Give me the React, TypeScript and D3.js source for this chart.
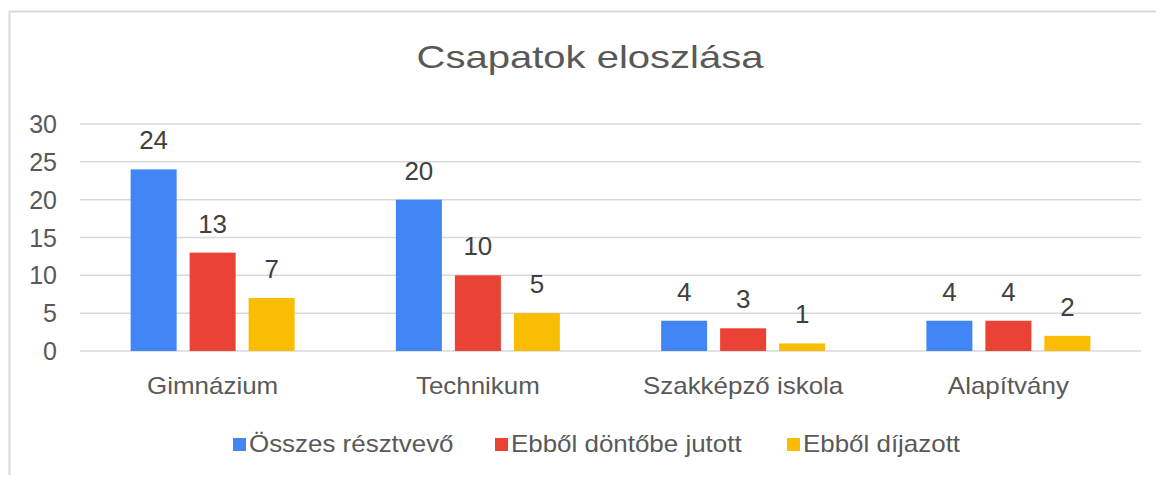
import { useEffect, useRef } from 'react';
import * as d3 from 'd3';

const categories = ['Gimnázium', 'Technikum', 'Szakképző iskola', 'Alapítvány'];
const seriesNames = ['Összes résztvevő', 'Ebből döntőbe jutott', 'Ebből díjazott'];
const osszes = [24, 20, 4, 4];
const dontobe = [13, 10, 3, 4];
const dijazott = [7, 5, 1, 2];
const yTicks = [0, 5, 10, 15, 20, 25, 30];
const colors = ['#4285F4', '#EA4335', '#FBBC04'];

export default function App() {
  const svgRef = useRef<SVGSVGElement | null>(null);

  useEffect(() => {
    if (!svgRef.current) return;
    const width = 1164;
    const height = 483;
    const font = 'Arial, "Liberation Sans", sans-serif';
    const textColor = '#595959';

    const svg = d3.select(svgRef.current);
    svg.selectAll('*').remove();
    svg.attr('width', width).attr('height', height);

    // stretch text horizontally like the (slightly widened) reference
    const stretch = (sel: any, k: number) => {
      sel.each(function (this: SVGTextElement) {
        const len = this.getComputedTextLength();
        d3.select(this).attr('textLength', len * k).attr('lengthAdjust', 'spacingAndGlyphs');
      });
    };

    svg.append('rect').attr('width', width).attr('height', height).attr('fill', '#fff');

    // outer frame (cut off on right and bottom)
    svg
      .append('path')
      .attr('d', `M9.5,${height} V11.5 H${width}`)
      .attr('fill', 'none')
      .attr('stroke', '#d9d9d9')
      .attr('stroke-width', 2);

    // Title
    const title = svg
      .append('text')
      .attr('x', 590)
      .attr('y', 68)
      .attr('text-anchor', 'middle')
      .style('font-family', font)
      .style('font-size', '32px')
      .style('fill', textColor)
      .text('Csapatok eloszlása');
    stretch(title, 1.25);

    const x0 = d3.scaleBand().domain(categories).range([80, 1141]);
    const x1 = d3.scaleBand().domain(seriesNames).range([0, 164]).paddingInner(0.22);
    const y = d3.scaleLinear().domain([0, 30]).range([351, 124]);

    // gridlines
    svg
      .append('g')
      .selectAll('line')
      .data(yTicks)
      .join('line')
      .attr('x1', 80)
      .attr('x2', 1141)
      .attr('y1', (d) => y(d))
      .attr('y2', (d) => y(d))
      .attr('stroke', '#d9d9d9')
      .attr('stroke-width', 1.5);

    // y labels
    svg
      .append('g')
      .selectAll('text')
      .data(yTicks)
      .join('text')
      .attr('x', 57)
      .attr('y', (d) => y(d) + 9)
      .attr('text-anchor', 'end')
      .style('font-family', font)
      .style('font-size', '25px')
      .style('fill', textColor)
      .text((d) => d);

    const series = [osszes, dontobe, dijazott];
    const groupW = 164;

    categories.forEach((cat, ci) => {
      const gx = (x0(cat) ?? 0) + x0.bandwidth() / 2 - groupW / 2;
      series.forEach((vals, si) => {
        const bx = gx + (x1(seriesNames[si]) ?? 0);
        svg
          .append('rect')
          .attr('x', bx)
          .attr('y', y(vals[ci]))
          .attr('width', x1.bandwidth())
          .attr('height', y(0) - y(vals[ci]))
          .attr('fill', colors[si]);
        svg
          .append('text')
          .attr('x', bx + x1.bandwidth() / 2)
          .attr('y', y(vals[ci]) - 20)
          .attr('text-anchor', 'middle')
          .style('font-family', font)
          .style('font-size', '26px')
          .style('fill', '#404040')
          .text(vals[ci]);
      });
      const lbl = svg
        .append('text')
        .attr('x', (x0(cat) ?? 0) + x0.bandwidth() / 2)
        .attr('y', 394)
        .attr('text-anchor', 'middle')
        .style('font-family', font)
        .style('font-size', '24px')
        .style('fill', textColor)
        .text(cat);
      stretch(lbl, 1.08);
    });

    // legend
    const legendX = [233, 495, 787];
    seriesNames.forEach((name, i) => {
      svg
        .append('rect')
        .attr('x', legendX[i])
        .attr('y', 438)
        .attr('width', 13)
        .attr('height', 13)
        .attr('fill', colors[i]);
      const t = svg
        .append('text')
        .attr('x', legendX[i] + 16)
        .attr('y', 452)
        .style('font-family', font)
        .style('font-size', '24px')
        .style('fill', textColor)
        .text(name);
      stretch(t, 1.08);
    });
  }, []);

  return (
    <div style={{ margin: -8 }}>
      <svg ref={svgRef} style={{ display: 'block' }} />
    </div>
  );
}
